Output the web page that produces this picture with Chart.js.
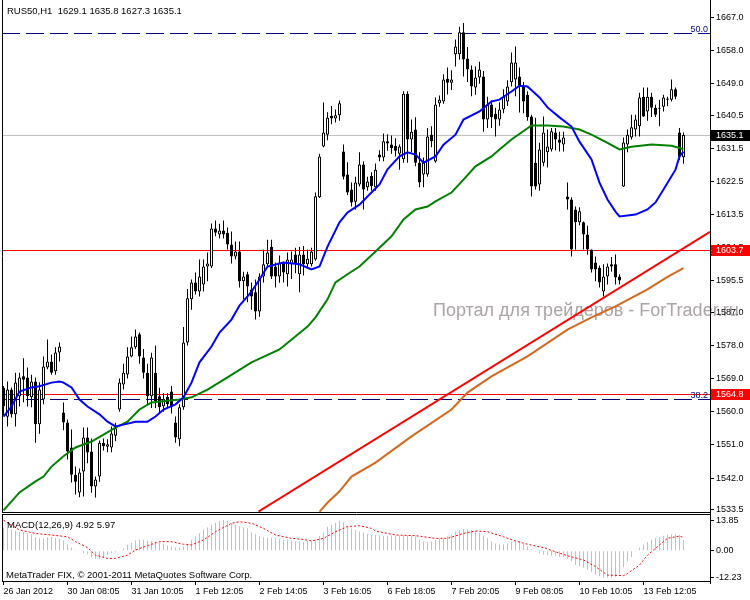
<!DOCTYPE html>
<html><head><meta charset="utf-8">
<script src="https://cdn.jsdelivr.net/npm/chart.js@4/dist/chart.umd.min.js"></script>
<style>
html,body{margin:0;padding:0;background:#fff;}
#wrap{position:relative;width:750px;height:600px;overflow:hidden;background:#fff;}
#main{position:absolute;left:0;top:0;}
#macd{position:absolute;left:0;top:512px;}
</style></head><body>
<div id="wrap"><canvas id="main" width="750" height="513"></canvas><canvas id="macd" width="750" height="88"></canvas></div>
<script>
// ---------- data ----------
const symbol = "RUS50,H1";
const opens = [1566.5,1558.6,1566.0,1559.3,1564.2,1569.6,1569.3,1563.9,1568.2,1556.6,
1563.3,1572.0,1573.6,1571.0,1576.1,1559.8,1557.1,1550.3,1542.9,1538.1,
1543.8,1553.0,1549.2,1539.7,1542.4,1551.6,1550.5,1550.3,1553.5,1560.6,
1567.4,1570.1,1575.0,1577.5,1581.0,1574.7,1570.6,1564.2,1570.6,1564.2,
1561.5,1564.0,1565.5,1557.1,1552.5,1561.2,1578.8,1590.5,1595.1,1592.6,
1594.5,1599.4,1599.4,1609.7,1608.1,1609.2,1608.6,1605.4,1602.1,1603.5,
1595.4,1597.3,1593.2,1592.4,1587.2,1596.7,1600.0,1604.8,1599.4,1596.7,
1600.5,1597.3,1600.0,1602.7,1597.3,1602.7,1600.0,1600.0,1601.3,1618.2,
1632.0,1635.2,1640.3,1639.6,1640.5,1630.6,1624.4,1620.3,1617.0,1621.7,
1627.1,1620.9,1624.0,1620.9,1629.8,1629.0,1633.4,1632.5,1632.2,1630.0,
1628.5,1646.3,1633.9,1636.6,1627.6,1624.4,1624.4,1635.2,1627.9,1643.7,
1644.2,1650.4,1649.3,1657.0,1657.0,1663.0,1655.9,1652.9,1648.0,1650.7,
1651.0,1639.3,1643.4,1640.8,1639.3,1642.0,1644.2,1649.4,1650.2,1651.0,
1648.3,1646.0,1640.1,1627.6,1621.7,1627.6,1630.4,1631.2,1635.8,1633.9,
1632.5,1618.4,1617.6,1614.9,1611.4,1611.4,1608.1,1604.0,1600.5,1599.1,
1592.6,1596.7,1600.0,1600.0,1596.7,1621.1,1632.5,1634.4,1636.6,1637.5,
1645.5,1641.5,1645.5,1642.5,1642.2,1642.8,1644.7,1644.7,1647.5,1635.8,
1629.1];
const highs = [1567.0,1568.2,1566.6,1570.6,1570.6,1574.5,1572.0,1570.0,1569.3,1568.0,
1575.0,1579.6,1575.5,1577.5,1578.8,1562.5,1557.9,1555.2,1545.1,1544.6,
1555.7,1555.7,1552.7,1542.4,1552.2,1552.7,1552.5,1556.0,1557.0,1569.0,
1573.0,1577.5,1580.4,1582.3,1581.5,1577.0,1573.0,1576.0,1578.0,1566.5,
1565.0,1565.0,1567.0,1558.7,1562.0,1583.0,1593.3,1595.9,1597.8,1601.3,
1601.3,1603.2,1611.1,1611.9,1611.0,1611.9,1610.0,1608.9,1606.2,1606.2,
1598.0,1598.0,1595.1,1595.9,1597.6,1604.0,1606.7,1606.7,1600.5,1602.4,
1600.8,1603.2,1603.5,1604.5,1604.8,1605.0,1604.0,1604.5,1619.5,1630.0,
1643.9,1641.3,1643.0,1642.0,1644.5,1632.5,1627.7,1622.2,1623.8,1630.4,
1628.0,1623.8,1625.0,1627.4,1631.0,1635.5,1635.3,1635.0,1634.2,1632.5,
1647.0,1647.0,1639.3,1639.9,1630.4,1629.0,1637.0,1637.5,1645.3,1645.8,
1651.6,1653.4,1652.7,1661.0,1664.5,1665.5,1659.0,1654.0,1653.7,1655.0,
1652.5,1645.5,1644.5,1642.5,1644.0,1647.5,1650.0,1657.5,1659.1,1653.4,
1649.5,1647.0,1640.6,1639.8,1633.0,1640.1,1636.6,1637.0,1637.0,1636.0,
1636.0,1622.2,1618.2,1615.7,1615.5,1611.6,1610.5,1604.0,1602.1,1599.7,
1600.0,1600.2,1602.0,1602.7,1597.3,1634.4,1636.6,1640.6,1640.6,1646.6,
1648.0,1648.0,1646.6,1643.3,1644.7,1646.0,1645.5,1650.2,1648.0,1637.0,
1635.8];
const lows = [1559.0,1556.0,1558.4,1556.0,1561.4,1562.6,1561.4,1561.2,1551.6,1554.0,
1562.0,1571.5,1570.0,1570.0,1573.6,1555.0,1547.0,1540.8,1537.5,1536.8,
1537.0,1546.0,1538.0,1536.7,1541.0,1549.5,1549.0,1549.0,1552.0,1560.0,
1566.0,1569.0,1574.8,1577.0,1573.0,1569.0,1562.0,1561.0,1561.0,1559.5,
1560.0,1561.0,1559.5,1551.6,1550.6,1560.5,1578.0,1587.7,1591.8,1591.3,
1592.6,1595.4,1599.0,1607.6,1607.0,1607.0,1604.0,1600.2,1601.4,1593.7,
1590.5,1589.7,1587.7,1585.0,1585.8,1595.1,1599.0,1596.0,1593.7,1595.0,
1595.1,1594.0,1596.0,1597.6,1592.4,1597.0,1599.0,1599.4,1601.0,1618.0,
1631.8,1633.7,1638.0,1638.5,1639.0,1623.0,1618.8,1615.7,1614.9,1621.1,
1614.9,1620.0,1620.0,1620.0,1628.0,1628.0,1630.8,1630.0,1629.3,1625.7,
1627.6,1627.6,1630.4,1626.6,1620.9,1620.9,1623.8,1631.8,1627.6,1642.8,
1643.6,1646.1,1647.3,1653.7,1655.5,1651.0,1649.5,1645.6,1646.0,1649.0,
1636.0,1637.0,1637.0,1634.7,1637.6,1641.0,1643.0,1648.3,1645.6,1641.2,
1641.0,1639.0,1618.4,1620.3,1620.0,1626.6,1626.3,1630.6,1631.0,1630.6,
1630.6,1614.9,1602.1,1604.0,1610.6,1604.0,1602.6,1597.8,1595.4,1593.7,
1591.3,1594.5,1598.0,1594.5,1594.5,1621.0,1630.4,1633.9,1634.7,1634.7,
1640.0,1639.0,1640.0,1640.0,1637.5,1641.5,1643.0,1644.2,1644.8,1628.3,
1627.3];
const closes = [1561.5,1566.0,1559.3,1567.9,1569.3,1568.7,1564.2,1568.2,1556.6,1566.0,
1572.3,1573.6,1570.6,1576.1,1577.7,1557.1,1549.2,1542.9,1541.0,1543.5,
1553.0,1548.9,1539.7,1541.6,1551.6,1550.6,1551.2,1554.1,1555.5,1567.9,
1570.6,1575.0,1577.5,1580.4,1575.0,1570.6,1564.2,1574.7,1562.8,1561.2,
1563.5,1562.0,1561.2,1553.0,1561.2,1578.8,1590.8,1595.1,1592.6,1596.7,
1599.4,1600.2,1609.7,1608.6,1609.2,1608.1,1605.4,1602.1,1603.5,1595.4,
1596.7,1594.0,1591.3,1587.2,1596.7,1600.0,1603.2,1596.7,1596.7,1600.5,
1597.8,1601.3,1601.3,1600.0,1602.7,1600.0,1601.5,1603.5,1618.5,1629.3,
1635.8,1639.8,1639.6,1640.5,1643.7,1623.8,1619.5,1616.8,1622.2,1627.1,
1620.3,1622.5,1621.2,1625.7,1629.0,1633.4,1632.8,1631.5,1630.8,1632.0,
1646.3,1633.9,1636.0,1627.6,1622.2,1627.9,1634.7,1633.4,1643.4,1644.7,
1650.2,1649.3,1650.2,1659.1,1663.0,1655.6,1652.9,1648.3,1650.7,1652.9,
1639.3,1643.4,1639.9,1639.3,1642.0,1645.5,1648.3,1654.8,1654.8,1648.3,
1644.2,1640.0,1621.1,1621.1,1631.2,1635.8,1632.0,1636.1,1633.9,1633.0,
1634.4,1617.6,1604.0,1611.4,1614.4,1608.1,1604.0,1598.6,1598.6,1595.1,
1596.7,1599.4,1599.4,1596.4,1595.6,1633.1,1635.2,1637.2,1639.3,1645.3,
1640.1,1645.5,1642.5,1640.6,1642.5,1645.3,1645.0,1647.5,1645.5,1629.2,
1635.1];

// moving averages, read at [bar index, price]
const blueMA = [[0,1558.7],[2,1561.4],[4,1565.5],[7,1566.6],[9,1566.9],[12,1567.9],[14,1568.2],[15,1567.9],[17,1566.6],[19,1563.3],[21,1561.4],[24,1559.3],[26,1557.3],[28,1556.0],[30,1556.5],[33,1557.3],[36,1557.3],[38,1558.7],[40,1560.6],[43,1562.0],[45,1563.9],[47,1567.9],[49,1573.4],[52,1577.7],[54,1581.5],[57,1585.0],[59,1588.8],[62,1592.6],[64,1595.9],[66,1599.4],[70,1600.5],[74,1600.0],[77,1598.6],[79,1599.4],[81,1604.8],[84,1611.4],[86,1614.1],[89,1616.2],[91,1618.4],[94,1621.7],[96,1625.8],[99,1629.3],[101,1630.4],[103,1629.8],[105,1627.6],[108,1629.3],[110,1632.5],[113,1635.2],[115,1639.3],[119,1641.5],[122,1644.2],[124,1644.7],[127,1646.9],[129,1648.5],[131,1648.3],[134,1645.3],[136,1642.6],[139,1639.9],[142,1637.4],[144,1633.3],[147,1628.5],[149,1622.2],[151,1617.6],[153,1614.3],[154,1613.0],[158,1613.5],[161,1614.9],[163,1616.8],[165,1620.3],[168,1625.7],[169,1629.3],[170,1630.6]];
const greenMA = [[0,1533.2],[4,1538.1],[8,1541.1],[10,1542.4],[12,1545.1],[15,1547.9],[18,1550.3],[22,1551.9],[25,1553.8],[28,1555.7],[31,1557.3],[34,1560.6],[37,1562.5],[41,1563.0],[44,1563.3],[47,1563.9],[51,1566.0],[56,1569.3],[62,1573.4],[69,1576.9],[76,1583.1],[78,1585.6],[81,1590.5],[83,1595.1],[86,1597.3],[89,1599.4],[93,1603.5],[97,1607.6],[100,1612.2],[103,1614.9],[106,1615.7],[108,1617.1],[112,1619.5],[115,1623.0],[118,1626.6],[122,1629.3],[124,1631.2],[127,1633.9],[132,1637.7],[136,1637.7],[140,1637.4],[144,1636.6],[147,1635.2],[151,1633.0],[154,1631.2],[157,1631.9],[162,1632.5],[167,1632.2],[169,1631.6],[170,1631.2]];
const orangeMA = [[79,1532.9],[81,1535.3],[84,1538.4],[87,1542.4],[93,1546.2],[102,1553.3],[112,1560.6],[116,1565.2],[122,1569.6],[131,1575.0],[141,1582.3],[147,1585.6],[153,1588.6],[161,1593.2],[166,1596.6],[170,1599.0]];
const trendLine = [[63.75,1532.9],[176.625,1608.8]];

// horizontal levels
const currentPrice = 1635.1;
const redLevels = [1603.7, 1564.8];
const fibLevels = [{label:"50.0", value:1662.7},{label:"38.2", value:1563.4}];

// MACD(12,26,9)
const macdHist = [10.5,10.3,9.6,8.9,8.6,8.6,7.9,7.3,6.1,5.6,
5.6,6.1,6.2,5.8,5.3,4.6,2.9,1.4,0.3,-0.3,
-1.0,-1.6,-3.1,-3.8,-3.8,-3.2,-2.0,-1.1,-0.7,0.0,
1.0,2.6,3.5,4.7,5.1,5.0,4.6,4.4,4.2,3.8,
3.1,2.3,1.9,1.5,1.5,1.9,2.6,5.0,6.3,7.9,
9.6,10.5,11.7,12.8,13.6,13.85,13.4,12.5,11.7,11.1,
10.6,10.1,8.4,7.4,6.6,6.1,5.9,5.9,5.7,5.3,
4.8,5.1,4.6,4.2,4.0,3.9,4.4,4.2,5.0,6.6,
8.1,10.8,11.7,12.6,13.7,12.9,11.4,10.0,9.4,8.7,
8.2,7.6,7.1,7.1,7.0,6.8,6.8,6.8,6.8,6.9,
7.0,6.9,6.7,6.4,5.1,4.2,3.9,4.2,4.8,5.2,
5.7,6.5,7.2,8.6,9.3,9.7,9.6,9.3,8.9,8.1,
6.9,5.7,4.2,3.3,2.9,2.9,3.2,3.9,4.4,4.2,
3.1,2.0,0.8,-0.5,-1.1,-1.7,-2.1,-2.3,-2.3,-2.7,
-3.0,-3.6,-4.7,-6.5,-7.0,-7.7,-8.6,-9.8,-10.7,-11.6,
-12.1,-12.23,-12.2,-11.8,-10.5,-7.5,-4.8,-2.9,-0.5,1.3,
2.8,3.9,5.0,5.6,6.2,6.8,7.2,7.4,7.4,7.1,
4.92];
const macdSignal = [[0,13.8],[4,9.4],[8,7.8],[12,7.1],[16,6.3],[18,4.1],[21,1.4],[23,-2.0],[26,-3.5],[28,-3.5],[31,-2.0],[33,0.3],[36,2.3],[39,4.1],[42,4.1],[45,2.9],[47,2.6],[50,4.8],[53,8.6],[57,12.4],[59,13.1],[62,12.4],[65,10.1],[68,7.1],[72,5.6],[75,5.1],[77,4.4],[80,5.6],[83,8.6],[86,10.9],[89,11.3],[92,10.1],[93,8.9],[98,7.1],[103,6.8],[108,5.6],[111,5.6],[115,7.8],[118,8.9],[121,8.6],[125,6.3],[128,4.4],[131,2.9],[135,1.4],[138,-0.5],[141,-2.3],[145,-4.2],[148,-7.2],[151,-11.0],[155,-11.3],[156,-10.3],[159,-6.5],[161,-2.0],[164,2.6],[166,5.6],[169,6.6],[170,5.97]];
const macdLast = 4.92, signalLast = 5.97;

// axes
const priceTicks = [1667.0,1658.0,1649.0,1640.5,1631.5,1622.5,1613.5,1604.5,1595.5,1587.0,1578.0,1569.0,1560.0,1551.0,1542.0,1533.5];
const macdTicks = [13.85, 0.00, -12.23];
const xTickIdx = [0,16,32,48,64,80,96,112,128,144,160];
const xTickLabels = ["26 Jan 2012","30 Jan 08:05","31 Jan 10:05","1 Feb 12:05","2 Feb 14:05","3 Feb 16:05","6 Feb 18:05","7 Feb 20:05","9 Feb 08:05","10 Feb 10:05","13 Feb 12:05"];
const priceMin = 1532.78, priceMax = 1671.75;
const macdMin = -13.71, macdMax = 16.15;
const xMin = -0.375, xMax = 176.625;

const watermarkText = "Портал для трейдеров - ForTrader.ru";
const copyrightText = "MetaTrader FIX, \u00A9 2001-2011 MetaQuotes Software Corp.";

// ---------- rendering ----------
const FONT = '"Liberation Sans", Arial, sans-serif';
Chart.defaults.font.family = FONT;
Chart.defaults.color = '#000';

const idx = opens.map((_, i) => i);
const pair = arr => arr.map(p => ({x: p[0], y: p[1]}));
const lineDs = (data, color, width, order, dash) => ({
  type: 'line', data: pair(data), borderColor: color, borderWidth: width,
  borderDash: dash || [], pointRadius: 0, pointHoverRadius: 0, tension: 0,
  fill: false, clip: 0, order: order
});

const mainDecor = {
  id: 'mainDecor',
  beforeDraw(chart) {
    const ctx = chart.ctx;
    ctx.save();
    ctx.font = '18px ' + FONT;
    ctx.fillStyle = '#aca4a4';
    ctx.textBaseline = 'middle';
    ctx.textAlign = 'left';
    ctx.fillText(watermarkText, 433, 311);
    ctx.restore();
  },
  beforeDatasetsDraw(chart) {
    const {ctx, chartArea: ca, scales} = chart;
    const ys = scales.y;
    const hline = (v, color, dash) => {
      const py = Math.floor(ys.getPixelForValue(v)) + 0.5;
      ctx.strokeStyle = color; ctx.lineWidth = 1; ctx.setLineDash(dash);
      ctx.beginPath(); ctx.moveTo(ca.left, py); ctx.lineTo(ca.right, py); ctx.stroke();
    };
    ctx.save();
    hline(currentPrice, '#c0c0c0', []);
    redLevels.forEach(v => hline(v, '#ff0000', []));
    fibLevels.forEach(f => hline(f.value, '#000080', [18, 6]));
    ctx.restore();
  },
  afterDraw(chart) {
    const {ctx, chartArea: ca, scales} = chart;
    const ys = scales.y;
    ctx.save();
    ctx.strokeStyle = '#000'; ctx.lineWidth = 1;
    ctx.beginPath();
    ctx.moveTo(ca.left + 0.5, 0); ctx.lineTo(ca.left + 0.5, ca.bottom + 1);
    ctx.moveTo(ca.left, ca.bottom + 0.5); ctx.lineTo(ca.right + 1, ca.bottom + 0.5);
    ctx.moveTo(ca.right + 0.5, 0); ctx.lineTo(ca.right + 0.5, chart.height);
    ctx.stroke();
    // fib labels
    ctx.font = '9px ' + FONT;
    ctx.fillStyle = '#000080'; ctx.textAlign = 'right'; ctx.textBaseline = 'alphabetic';
    fibLevels.forEach(f => ctx.fillText(f.label, ca.right - 2, Math.floor(ys.getPixelForValue(f.value)) - 1));
    // price boxes
    const marks = [{v: currentPrice, bg: '#000000'}].concat(redLevels.map(v => ({v: v, bg: '#ff0000'})));
    marks.forEach(m => {
      const py = Math.floor(ys.getPixelForValue(m.v));
      ctx.fillStyle = m.bg;
      ctx.fillRect(ca.right + 1, py - 5, 39, 11);
      ctx.fillStyle = '#ffffff'; ctx.textAlign = 'left'; ctx.textBaseline = 'middle';
      ctx.fillText(m.v.toFixed(1), ca.right + 6, py + 0.5);
    });
    // title
    const n = opens.length - 1;
    ctx.font = '9.5px ' + FONT;
    ctx.fillStyle = '#000'; ctx.textAlign = 'left'; ctx.textBaseline = 'middle';
    ctx.fillText(symbol + '  ' + [opens[n], highs[n], lows[n], closes[n]].map(v => v.toFixed(1)).join(' '), 7, 11);
    ctx.restore();
  }
};

new Chart(document.getElementById('main'), {
  type: 'bar',
  data: {
    datasets: [
      {type: 'bar', data: idx.map(i => ({x: i, y: [lows[i], highs[i]]})), backgroundColor: '#000',
       borderWidth: 0, barThickness: 1, grouped: false, inflateAmount: 0, order: 11},
      {type: 'bar', data: idx.map(i => ({x: i, y: [opens[i], closes[i]]})),
       backgroundColor: idx.map(i => closes[i] >= opens[i] ? '#ffffff' : '#000000'),
       borderColor: '#000', borderWidth: 1, borderSkipped: false, barThickness: 3,
       minBarLength: 1, grouped: false, inflateAmount: 0, order: 10},
      lineDs(orangeMA, '#d2691e', 2, 6),
      lineDs(greenMA, '#008000', 2, 5),
      lineDs(blueMA, '#0000ff', 2, 4),
      lineDs(trendLine, '#ff0000', 2, 3)
    ]
  },
  options: {
    responsive: false, animation: false, devicePixelRatio: 1, events: [],
    layout: {padding: {left: 2, top: 0, right: 0, bottom: 1}, autoPadding: false},
    plugins: {legend: {display: false}, tooltip: {enabled: false}},
    scales: {
      x: {type: 'linear', min: xMin, max: xMax, display: false, offset: false, grid: {offset: false}},
      y: {
        position: 'right', min: priceMin, max: priceMax, beginAtZero: false,
        afterBuildTicks: s => { s.ticks = priceTicks.map(v => ({value: v})); },
        afterFit: s => { s.width = 40; s.paddingTop = 0; s.paddingBottom = 0; },
        ticks: {font: {family: FONT, size: 9}, color: '#000', padding: 2, autoSkip: false,
                callback: v => Number(v).toFixed(1)},
        grid: {drawOnChartArea: false, drawTicks: true, tickLength: 4, color: '#000'},
        border: {display: true, color: '#000'}
      }
    }
  },
  plugins: [mainDecor]
});

const macdDecor = {
  id: 'macdDecor',
  afterDraw(chart) {
    const {ctx, chartArea: ca} = chart;
    ctx.save();
    ctx.strokeStyle = '#000'; ctx.lineWidth = 1;
    ctx.beginPath();
    ctx.moveTo(ca.left + 0.5, ca.top - 1); ctx.lineTo(ca.left + 0.5, ca.bottom);
    ctx.moveTo(ca.left, ca.top - 0.5); ctx.lineTo(ca.right + 1, ca.top - 0.5);
    ctx.moveTo(ca.right + 0.5, 0); ctx.lineTo(ca.right + 0.5, ca.bottom + 3);
    ctx.stroke();
    ctx.font = '9.5px ' + FONT;
    ctx.fillStyle = '#000'; ctx.textAlign = 'left'; ctx.textBaseline = 'middle';
    ctx.fillText('MACD(12,26,9) ' + macdLast.toFixed(2) + ' ' + signalLast.toFixed(2), 7, 13);
    ctx.fillText(copyrightText, 6, 63);
    ctx.restore();
  }
};

new Chart(document.getElementById('macd'), {
  type: 'bar',
  data: {
    datasets: [
      {type: 'bar', data: idx.map(i => ({x: i, y: macdHist[i]})), backgroundColor: '#c0c0c0',
       borderWidth: 0, barThickness: 1, grouped: false, inflateAmount: 0, order: 5},
      lineDs(macdSignal, '#ff0000', 1, 2, [2, 2])
    ]
  },
  options: {
    responsive: false, animation: false, devicePixelRatio: 1, events: [],
    layout: {padding: {left: 2, top: 3, right: 0, bottom: 0}, autoPadding: false},
    plugins: {legend: {display: false}, tooltip: {enabled: false}},
    scales: {
      x: {
        type: 'linear', min: xMin, max: xMax, position: 'bottom', offset: false,
        afterBuildTicks: s => { s.ticks = xTickIdx.map(v => ({value: v})); },
        afterFit: s => { s.height = 19; s.paddingLeft = 0; s.paddingRight = 0; },
        ticks: {font: {family: FONT, size: 9}, color: '#000', padding: 1, autoSkip: false,
                maxRotation: 0, minRotation: 0, align: 'start',
                callback: (v, i) => xTickLabels[i]},
        grid: {drawOnChartArea: false, drawTicks: true, tickLength: 4, color: '#000', offset: false},
        border: {display: true, color: '#000'}
      },
      y: {
        position: 'right', min: macdMin, max: macdMax, beginAtZero: false,
        afterBuildTicks: s => { s.ticks = macdTicks.map(v => ({value: v})); },
        afterFit: s => { s.width = 40; s.paddingTop = 0; s.paddingBottom = 0; },
        ticks: {font: {family: FONT, size: 9}, color: '#000', padding: 2, autoSkip: false,
                callback: v => Number(v).toFixed(2)},
        grid: {drawOnChartArea: false, drawTicks: true, tickLength: 4, color: '#000'},
        border: {display: true, color: '#000'}
      }
    }
  },
  plugins: [macdDecor]
});
</script>
</body></html>
